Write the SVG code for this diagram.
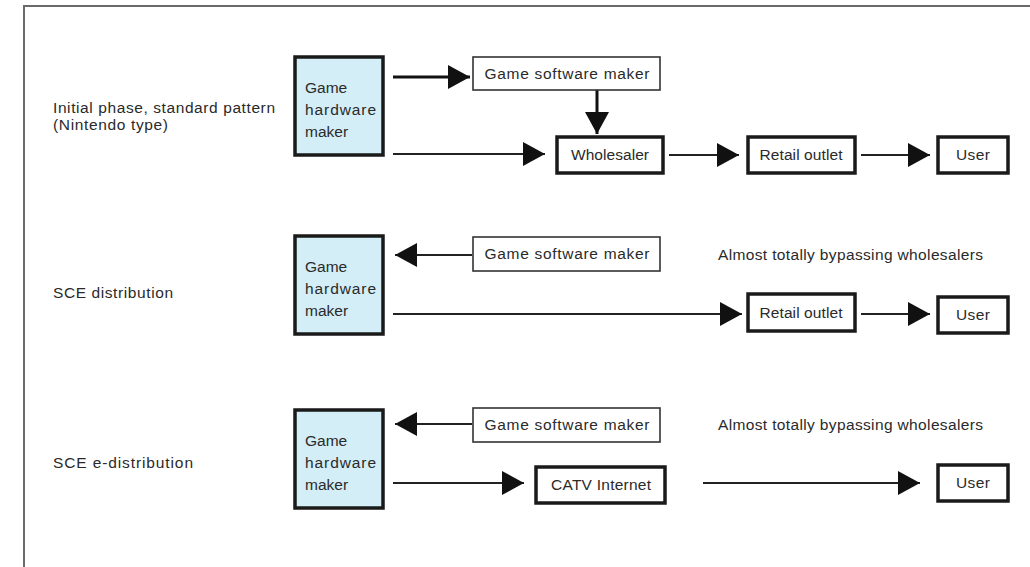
<svg xmlns="http://www.w3.org/2000/svg" width="1030" height="567" viewBox="0 0 1030 567">
<style>
text{font-family:"Liberation Sans",Arial,sans-serif;font-size:15.5px;fill:#2a2a2a}
.mid{text-anchor:middle}
.hw{fill:#d3eef7;stroke:#1a1a1a;stroke-width:3.5}
.thick{fill:#fff;stroke:#1a1a1a;stroke-width:3.5}
.thin{fill:#fff;stroke:#333;stroke-width:1.6}
.ln{stroke:#222;stroke-width:2;fill:none}
.ln3{stroke:#111;stroke-width:3;fill:none}
</style>
<defs>
<marker id="ah" markerUnits="userSpaceOnUse" markerWidth="23" markerHeight="24" refX="22" refY="12" orient="auto">
<path d="M0,0 L22,12 L0,24 z" fill="#111"/>
</marker>
</defs>
<rect width="1030" height="567" fill="#fff"/>
<polyline points="24,567 24,6 1030,6" fill="none" stroke="#6a6a6a" stroke-width="2"/>

<g id="labels">
<text x="53" y="113" textLength="222" lengthAdjust="spacing">Initial phase, standard pattern</text>
<text x="53" y="130" textLength="115" lengthAdjust="spacing">(Nintendo type)</text>
<text x="53" y="298" textLength="120" lengthAdjust="spacing">SCE distribution</text>
<text x="53" y="468" textLength="140" lengthAdjust="spacing">SCE e-distribution</text>
<text x="718" y="260" textLength="265" lengthAdjust="spacing">Almost totally bypassing wholesalers</text>
<text x="718" y="430" textLength="265" lengthAdjust="spacing">Almost totally bypassing wholesalers</text>
</g>

<g id="connectors">
<line class="ln3" x1="393" y1="77" x2="470" y2="77" marker-end="url(#ah)"/>
<line class="ln3" x1="597" y1="90" x2="597" y2="134" marker-end="url(#ah)"/>
<line class="ln" x1="393" y1="154" x2="545" y2="154" marker-end="url(#ah)"/>
<line class="ln" x1="669" y1="155" x2="739" y2="155" marker-end="url(#ah)"/>
<line class="ln" x1="861" y1="155" x2="930" y2="155" marker-end="url(#ah)"/>
<line class="ln" x1="472" y1="255" x2="395" y2="255" marker-end="url(#ah)"/>
<line class="ln" x1="393" y1="314" x2="742" y2="314" marker-end="url(#ah)"/>
<line class="ln" x1="861" y1="314" x2="930" y2="314" marker-end="url(#ah)"/>
<line class="ln" x1="472" y1="424" x2="395" y2="424" marker-end="url(#ah)"/>
<line class="ln" x1="393" y1="483" x2="524" y2="483" marker-end="url(#ah)"/>
<line class="ln" x1="703" y1="483" x2="920" y2="483" marker-end="url(#ah)"/>
</g>

<g id="hw1"><rect class="hw" x="295" y="57" width="88" height="98"/>
<text x="305" y="93">Game</text><text x="305" y="115" textLength="71" lengthAdjust="spacing">hardware</text><text x="305" y="137">maker</text></g>
<g id="sw1"><rect class="thin" x="473" y="57" width="187" height="33"/>
<text class="mid" x="567" y="79" textLength="165" lengthAdjust="spacing">Game software maker</text></g>
<g id="wholesaler"><rect class="thick" x="557" y="137" width="106" height="36"/>
<text class="mid" x="610" y="160" textLength="78" lengthAdjust="spacing">Wholesaler</text></g>
<g id="retail1"><rect class="thick" x="748" y="137" width="107" height="36"/>
<text class="mid" x="801" y="160" textLength="83" lengthAdjust="spacing">Retail outlet</text></g>
<g id="user1"><rect class="thick" x="938" y="137" width="70" height="36"/>
<text class="mid" x="973" y="160" textLength="34" lengthAdjust="spacing">User</text></g>

<g id="hw2"><rect class="hw" x="295" y="236" width="88" height="98"/>
<text x="305" y="272">Game</text><text x="305" y="294" textLength="71" lengthAdjust="spacing">hardware</text><text x="305" y="316">maker</text></g>
<g id="sw2"><rect class="thin" x="473" y="237" width="187" height="34"/>
<text class="mid" x="567" y="259" textLength="165" lengthAdjust="spacing">Game software maker</text></g>
<g id="retail2"><rect class="thick" x="748" y="294" width="107" height="37"/>
<text class="mid" x="801" y="318" textLength="83" lengthAdjust="spacing">Retail outlet</text></g>
<g id="user2"><rect class="thick" x="938" y="297" width="70" height="36"/>
<text class="mid" x="973" y="320" textLength="34" lengthAdjust="spacing">User</text></g>

<g id="hw3"><rect class="hw" x="295" y="410" width="88" height="98"/>
<text x="305" y="446">Game</text><text x="305" y="468" textLength="71" lengthAdjust="spacing">hardware</text><text x="305" y="490">maker</text></g>
<g id="sw3"><rect class="thin" x="473" y="408" width="187" height="34"/>
<text class="mid" x="567" y="430" textLength="165" lengthAdjust="spacing">Game software maker</text></g>
<g id="catv"><rect class="thick" x="536" y="467" width="129" height="36"/>
<text class="mid" x="601" y="490" textLength="100" lengthAdjust="spacing">CATV Internet</text></g>
<g id="user3"><rect class="thick" x="938" y="465" width="70" height="36"/>
<text class="mid" x="973" y="488" textLength="34" lengthAdjust="spacing">User</text></g>
</svg>
